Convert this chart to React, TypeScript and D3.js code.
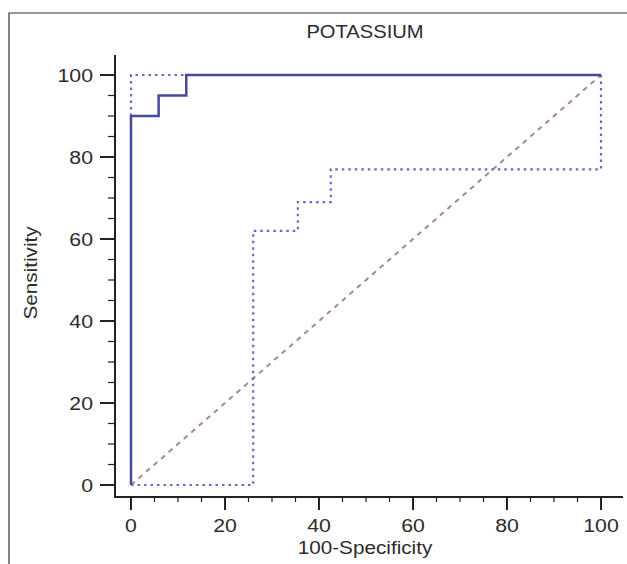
import React, {useRef, useEffect} from 'react'
import * as d3 from 'd3'

// ROC curve (100-Specificity vs Sensitivity)
const rocX = [0, 0, 5.88, 5.88, 11.76, 11.76, 100]
const rocY = [0, 90, 90, 95, 95, 100, 100]
// upper confidence bound
const upX = [0, 0, 11.76, 100]
const upY = [90, 100, 100, 100]
// lower confidence bound
const loX = [100, 100, 42.5, 42.5, 35.5, 35.5, 26, 26, 0]
const loY = [100, 77, 77, 69, 69, 62, 62, 0, 0]
// reference line
const diagX = [0, 100]
const diagY = [0, 100]

const majorTicks = [0, 20, 40, 60, 80, 100]
const minorTicks = d3.range(0, 101, 5)

const W = 627
const H = 564

const App = () => {
    const svgRef = useRef<SVGSVGElement>(null)

    useEffect(() => {
        const svg = d3.select(svgRef.current)
        svg.selectAll('*').remove()
        const font = 'Liberation Sans, Arial, sans-serif'
        const ink = '#2c2c2c'
        const stretch = 'scale(1.12,1)'

        const x = d3.scaleLinear().domain([0, 100]).range([131, 601])
        const y = d3.scaleLinear().domain([0, 100]).range([485, 75])
        const axisY = 497
        const axisX = 115

        // frame (top and left edge)
        svg.append('path').attr('d', `M9,${H} V13 H${W}`)
            .attr('fill', 'none').attr('stroke', '#333').attr('stroke-width', 1.2)

        const line = d3.line<[number, number]>().x(d => x(d[0])).y(d => y(d[1]))
        const pts = (xs: number[], ys: number[]) => xs.map((v, i) => [v, ys[i]] as [number, number])

        // axes lines
        svg.append('line').attr('x1', axisX).attr('x2', axisX).attr('y1', 55).attr('y2', axisY + 1)
            .attr('stroke', '#222').attr('stroke-width', 2)
        svg.append('line').attr('x1', axisX - 1).attr('x2', 623).attr('y1', axisY).attr('y2', axisY)
            .attr('stroke', '#222').attr('stroke-width', 2)

        // y ticks
        svg.selectAll('.ytm').data(minorTicks).enter().append('line')
            .attr('x1', d => majorTicks.includes(d) ? axisX - 15 : axisX - 7).attr('x2', axisX)
            .attr('y1', d => y(d)).attr('y2', d => y(d))
            .attr('stroke', '#222').attr('stroke-width', d => majorTicks.includes(d) ? 2 : 1.2)
        svg.selectAll('.ytl').data(majorTicks).enter().append('text')
            .attr('transform', d => `translate(93,${y(d)}) ${stretch}`).attr('dy', '0.36em')
            .attr('text-anchor', 'end').attr('font-family', font).attr('font-size', 19)
            .attr('fill', ink).text(d => d)

        // x ticks
        svg.selectAll('.xtm').data(minorTicks).enter().append('line')
            .attr('y1', axisY).attr('y2', d => majorTicks.includes(d) ? axisY + 13 : axisY + 5)
            .attr('x1', d => x(d)).attr('x2', d => x(d))
            .attr('stroke', '#222').attr('stroke-width', d => majorTicks.includes(d) ? 2 : 1.2)
        svg.selectAll('.xtl').data(majorTicks).enter().append('text')
            .attr('transform', d => `translate(${x(d)},532) ${stretch}`)
            .attr('text-anchor', 'middle').attr('font-family', font).attr('font-size', 19)
            .attr('fill', ink).text(d => d)

        // titles
        svg.append('text').attr('transform', `translate(365,38) ${stretch}`).attr('text-anchor', 'middle')
            .attr('font-family', font).attr('font-size', 18).attr('fill', ink).text('POTASSIUM')
        svg.append('text').attr('transform', `translate(365,554) ${stretch}`).attr('text-anchor', 'middle')
            .attr('font-family', font).attr('font-size', 18.5).attr('fill', ink).text('100-Specificity')
        svg.append('text').attr('transform', `translate(37,273) rotate(-90) ${stretch}`).attr('text-anchor', 'middle')
            .attr('font-family', font).attr('font-size', 18.5).attr('fill', ink).text('Sensitivity')

        // diagonal reference
        svg.append('path').attr('d', line(pts(diagX, diagY)))
            .attr('fill', 'none').attr('stroke', '#a88888').attr('stroke-width', 2)
            .attr('stroke-dasharray', '5,5')

        // confidence bounds
        const dotted = [pts(upX, upY), pts(loX, loY)]
        dotted.forEach(p => {
            svg.append('path').attr('d', line(p))
                .attr('fill', 'none').attr('stroke', '#6a6ac4').attr('stroke-width', 2.2)
                .attr('stroke-dasharray', '2.5,4')
        })

        // ROC curve
        svg.append('path').attr('d', line(pts(rocX, rocY)))
            .attr('fill', 'none').attr('stroke', '#48489c').attr('stroke-width', 2.5)
    }, [])

    return (
        <svg ref={svgRef} width={W} height={H} viewBox={`0 0 ${W} ${H}`}
            style={{position: 'absolute', left: 0, top: 0, background: '#fff'}} />
    )
}

export default App
